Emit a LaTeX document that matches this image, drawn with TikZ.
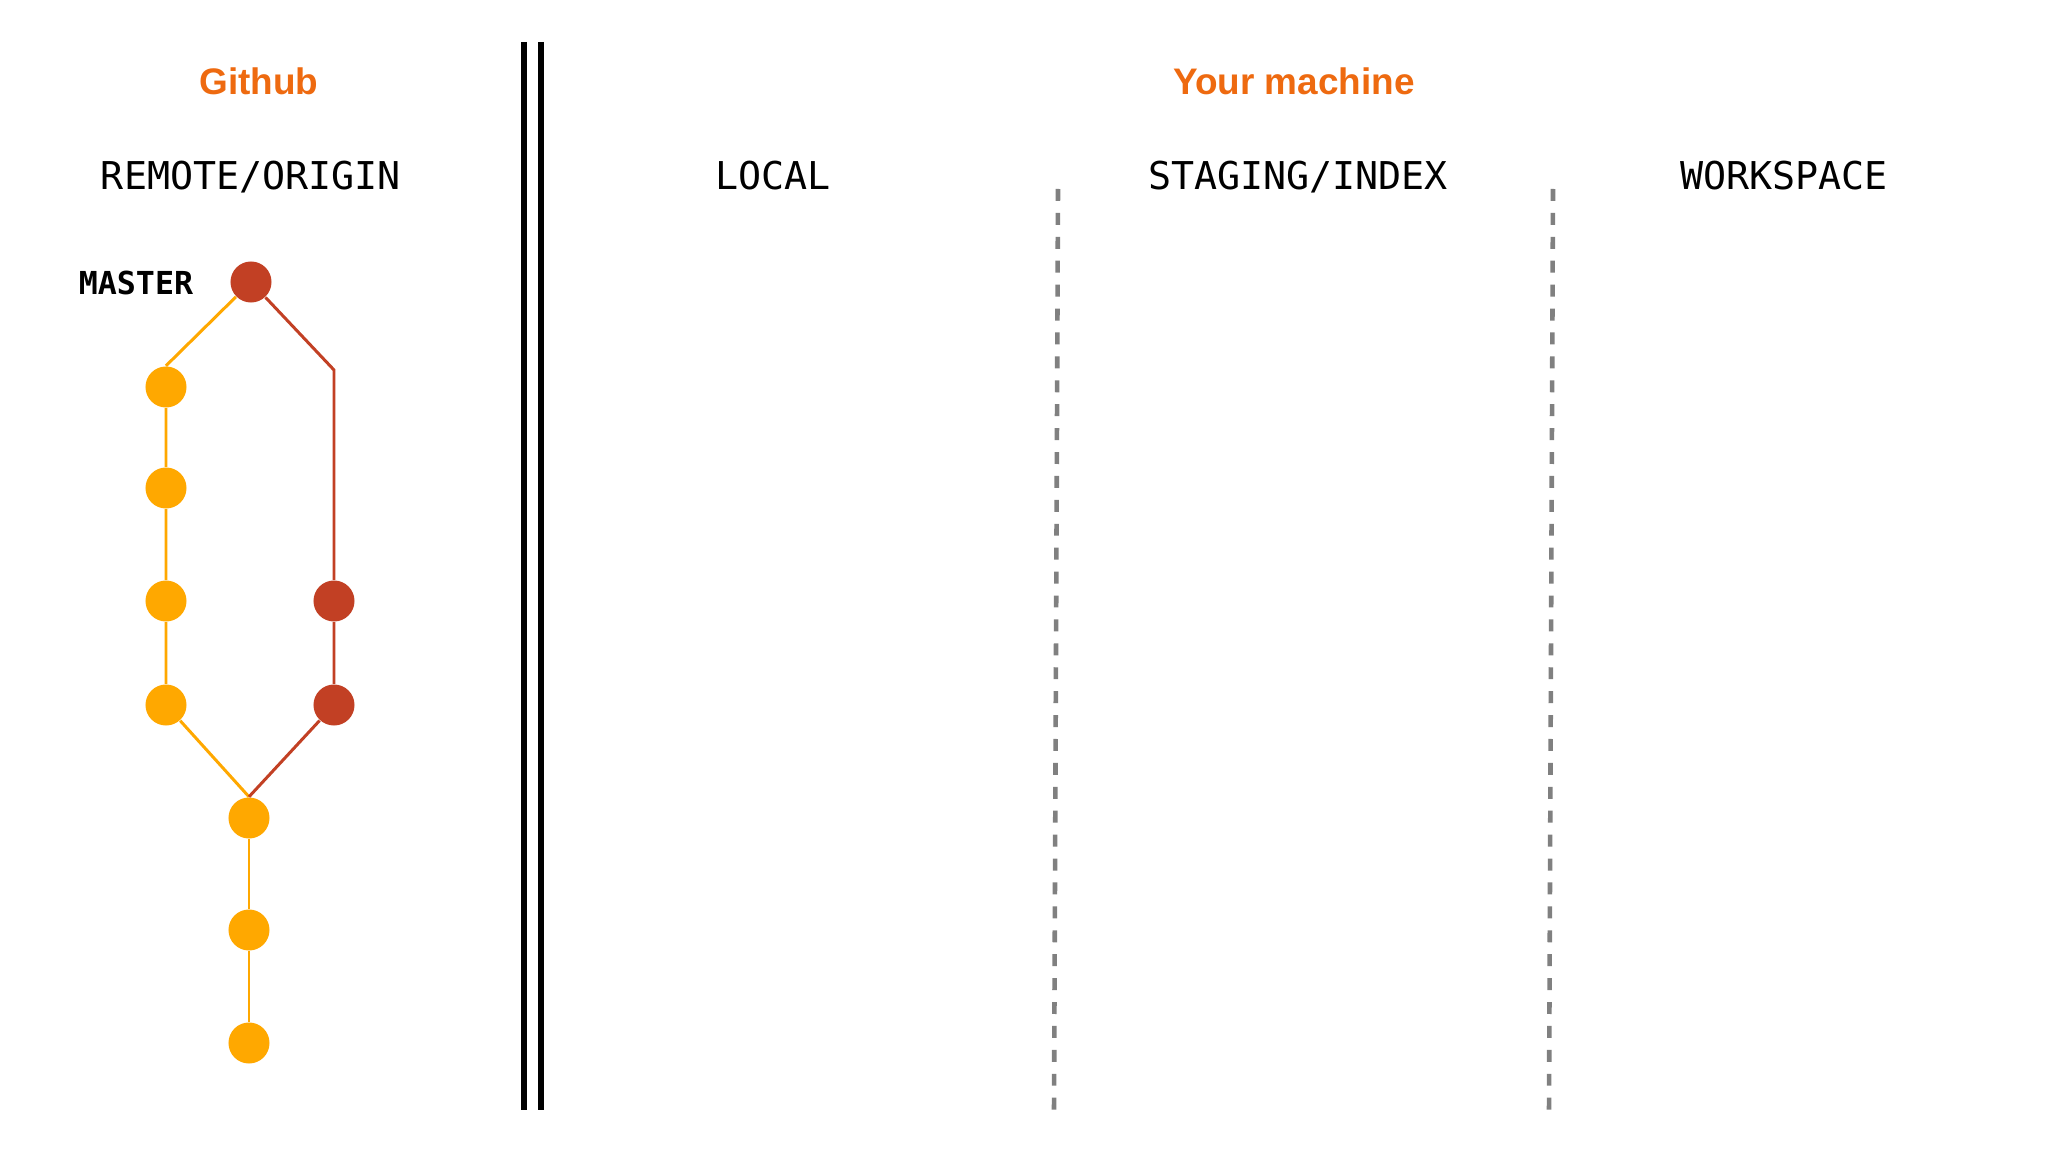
\documentclass[tikz,border=0pt]{standalone}
\usepackage{fontspec}
\setmainfont{Liberation Sans}
\setmonofont{DejaVu Sans Mono}
\definecolor{gitorange}{HTML}{FFA800}
\definecolor{gitred}{HTML}{C24024}
\definecolor{titleorange}{HTML}{EE6A10}
\definecolor{sepgray}{HTML}{808080}

\begin{document}
\begin{tikzpicture}[x=0.01cm,y=-0.01cm,
  commit/.style={circle,inner sep=0pt,minimum size=0.41cm,fill=gitorange},
  hot/.style={commit,fill=gitred},
  title/.style={anchor=base,text=titleorange,font=\fontsize{10.5}{12}\selectfont\bfseries},
  area/.style={anchor=base,font=\fontsize{10.9}{13}\selectfont\ttfamily},
  sep/.style={sepgray,line width=1.3pt,dash pattern=on 3.4pt off 3.4pt}]
\useasboundingbox[fill=white] (0,0) rectangle (2048,1152);

% headings
\node[title] (github) at (259,95) {Github};
\node[title] (machine) at (1294,95) {Your machine};
\node[area] (remote) at (251,190) {REMOTE/ORIGIN};
\node[area] (local) at (773,190) {LOCAL};
\node[area] (staging) at (1298,190) {STAGING/INDEX};
\node[area] (workspace) at (1784,190) {WORKSPACE};

% separators
\draw[line width=1.5pt] (524,42) -- (524,1110);
\draw[line width=1.5pt] (541,42) -- (541,1110);
\draw[sep] (1058,189) -- (1054,1110);
\draw[sep] (1553,189) -- (1549,1110);

% commits
\node[hot] (head) at (251,282) {};
\node[area,font=\fontsize{9}{11}\selectfont\ttfamily\bfseries] (master) at (136,295) {MASTER};
\node[commit] (a1) at (166,387) {};
\node[commit] (a2) at (166,488) {};
\node[commit] (a3) at (166,601) {};
\node[commit] (a4) at (166,705) {};
\coordinate (bend) at (334,370);
\node[hot] (b1) at (334,601) {};
\node[hot] (b2) at (334,705) {};
\node[commit] (m1) at (249,818) {};
\node[commit] (m2) at (249,930) {};
\node[commit] (m3) at (249,1043) {};

% branches
\draw[gitorange,line width=0.85pt] (head) -- (a1.north);
\draw[gitorange,line width=0.85pt] (a1) -- (a2) -- (a3) -- (a4) -- (m1.north);
\draw[gitorange,line width=0.85pt] (m1) -- (m2) -- (m3);
\draw[gitred,line width=0.85pt] (head) -- (bend) -- (b1) -- (b2) -- (m1.north);

\end{tikzpicture}
\end{document}
